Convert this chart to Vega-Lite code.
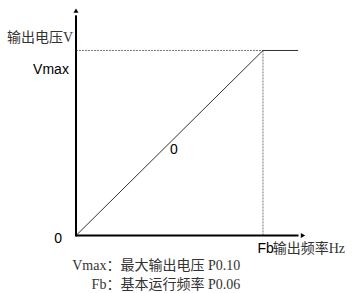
{
  "$schema": "https://vega.github.io/schema/vega-lite/v6.json",
  "width": 352,
  "height": 293,
  "padding": 0,
  "autosize": {"type": "fit", "contains": "padding"},
  "background": "white",
  "config": {"view": {"stroke": null}},
  "layer": [
    {
      "data": {"values": [
        {"g": "h", "f": 0, "v": 100},
        {"g": "h", "f": 50, "v": 100},
        {"g": "v", "f": 50, "v": 100},
        {"g": "v", "f": 50, "v": 0}
      ]},
      "mark": {"type": "line", "strokeDash": [2, 1], "strokeWidth": 1, "color": "#777777"},
      "encoding": {
        "x": {"field": "f", "type": "quantitative", "scale": {"domain": [-20.32, 73.8], "nice": false, "zero": false}, "axis": null},
        "y": {"field": "v", "type": "quantitative", "scale": {"domain": [-29.41, 127.27], "nice": false, "zero": false}, "axis": null},
        "detail": {"field": "g", "type": "nominal"}
      }
    },
    {
      "data": {"values": [
        {"f": 0, "v": 0},
        {"f": 50, "v": 100},
        {"f": 59.4, "v": 100}
      ]},
      "mark": {"type": "line", "strokeWidth": 1, "color": "#333333"},
      "encoding": {
        "x": {"field": "f", "type": "quantitative"},
        "y": {"field": "v", "type": "quantitative"}
      }
    },
    {
      "data": {"values": [
        {"seg": "vert", "f": 0, "v": -0.5},
        {"seg": "vert", "f": 0, "v": 119},
        {"seg": "horiz", "f": 0, "v": 0},
        {"seg": "horiz", "f": 59.5, "v": 0}
      ]},
      "mark": {"type": "line", "strokeWidth": 2, "color": "#000000"},
      "encoding": {
        "x": {"field": "f", "type": "quantitative"},
        "y": {"field": "v", "type": "quantitative"},
        "detail": {"field": "seg", "type": "nominal"}
      }
    },
    {
      "data": {"values": [{"f": 0, "v": 121.5}]},
      "mark": {"type": "point", "shape": "triangle-up", "filled": true, "color": "#000000", "size": 25, "opacity": 1},
      "encoding": {
        "x": {"field": "f", "type": "quantitative"},
        "y": {"field": "v", "type": "quantitative"}
      }
    },
    {
      "data": {"values": [{"f": 60.7, "v": 0}]},
      "mark": {"type": "point", "shape": "triangle-right", "filled": true, "color": "#000000", "size": 25, "opacity": 1},
      "encoding": {
        "x": {"field": "f", "type": "quantitative"},
        "y": {"field": "v", "type": "quantitative"}
      }
    },
    {
      "data": {"values": [
        {"label": "0", "f": 26.2, "v": 46},
        {"label": "0", "f": -4.8, "v": -1.8}
      ]},
      "mark": {"type": "text", "font": "Liberation Sans", "fontSize": 14, "color": "#000000", "baseline": "middle", "align": "center"},
      "encoding": {
        "x": {"field": "f", "type": "quantitative"},
        "y": {"field": "v", "type": "quantitative"},
        "text": {"field": "label"}
      }
    },
    {
      "data": {"values": [
        {"label": "Vmax", "f": -1.9, "v": 89.5}
      ]},
      "mark": {"type": "text", "font": "Liberation Sans", "fontSize": 14, "color": "#000000", "baseline": "middle", "align": "right"},
      "encoding": {
        "x": {"field": "f", "type": "quantitative"},
        "y": {"field": "v", "type": "quantitative"},
        "text": {"field": "label"}
      }
    },
    {
      "data": {"values": [
        {"label": "Fb", "f": 48.5, "v": -7}
      ]},
      "mark": {"type": "text", "font": "Liberation Sans", "fontSize": 14, "color": "#000000", "baseline": "middle", "align": "left"},
      "encoding": {
        "x": {"field": "f", "type": "quantitative"},
        "y": {"field": "v", "type": "quantitative"},
        "text": {"field": "label"}
      }
    },
    {
      "data": {"values": [
        {"label": "输出频率Hz", "f": 52.6, "v": -7}
      ]},
      "mark": {"type": "text", "font": "Liberation Serif, Noto Sans CJK SC", "fontSize": 14, "color": "#333333", "baseline": "middle", "align": "left"},
      "encoding": {
        "x": {"field": "f", "type": "quantitative"},
        "y": {"field": "v", "type": "quantitative"},
        "text": {"field": "label"}
      }
    },
    {
      "data": {"values": [
        {"label": "输出电压V", "f": -0.8, "v": 107},
        {"label": "Vmax：最大输出电压 P0.10", "f": 43.9, "v": -16.6},
        {"label": "Fb：基本运行频率 P0.06", "f": 43.9, "v": -26.8}
      ]},
      "mark": {"type": "text", "font": "Liberation Serif, Noto Sans CJK SC", "fontSize": 14, "color": "#333333", "baseline": "middle", "align": "right"},
      "encoding": {
        "x": {"field": "f", "type": "quantitative"},
        "y": {"field": "v", "type": "quantitative"},
        "text": {"field": "label"}
      }
    }
  ]
}
